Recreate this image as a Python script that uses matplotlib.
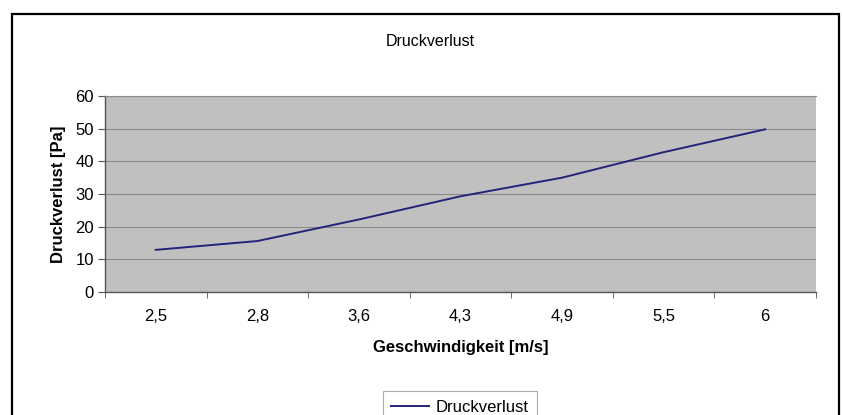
import numpy as np
import matplotlib.pyplot as plt
from matplotlib.patches import Rectangle

categories = ["2,5", "2,8", "3,6", "4,3", "4,9", "5,5", "6"]
druckverlust = [12.9, 15.6, 22.2, 29.3, 35.0, 42.8, 49.8]

plt.rcParams['font.family'] = ['Liberation Sans', 'DejaVu Sans']

W, H = 842, 415
fig = plt.figure(figsize=(W / 100, H / 100), dpi=100)

# outer chart frame (bottom runs off the image)
fig.patches.append(Rectangle((12 / W, -0.1), (839 - 12) / W, 1.1 - 14 / H,
                             transform=fig.transFigure, fill=False,
                             edgecolor='black', linewidth=1.6))

ax = fig.add_axes([105 / W, 1 - 292 / H, (816 - 105) / W, (292 - 96) / H])
ax.set_facecolor('#c0c0c0')

x = np.arange(len(categories))
ax.plot(x, druckverlust, color='#23237a', linewidth=1.4, label='Druckverlust')

ax.set_xlim(-0.5, len(categories) - 0.5)
ax.set_ylim(0, 60)
ax.set_yticks(np.arange(0, 61, 10))
ax.set_xticks(x)
ax.set_xticklabels(categories)
ax.set_xticks(np.arange(-0.5, len(categories), 1), minor=True)
ax.tick_params(axis='x', which='major', length=0, pad=12, labelsize=12)
ax.tick_params(axis='x', which='minor', length=4, color='#555555', direction='out')
ax.tick_params(axis='y', length=5, color='#555555', labelsize=12, pad=3)

ax.grid(axis='y', color='#8a8a8a', linewidth=0.8)
ax.set_axisbelow(True)

for s in ['left', 'bottom']:
    ax.spines[s].set_color('#555555')
    ax.spines[s].set_linewidth(1.0)
ax.spines['top'].set_color('#8a8a8a')
ax.spines['right'].set_visible(False)

ax.set_xlabel('Geschwindigkeit [m/s]', fontsize=12, fontweight='bold', labelpad=12)
ax.set_ylabel('Druckverlust [Pa]', fontsize=12, fontweight='bold', labelpad=7)

fig.text(430 / W, 1 - 42 / H, 'Druckverlust', ha='center', va='center', fontsize=11.5)

leg = fig.legend(loc='upper center', bbox_to_anchor=(460 / W, 1 - 383 / H),
                 fontsize=12, frameon=True, fancybox=False, handlelength=2.3,
                 borderpad=0.5, handletextpad=0.4)
leg.get_frame().set_edgecolor('#999999')
leg.get_frame().set_linewidth(0.8)

fig.savefig('out.png', dpi=100)
